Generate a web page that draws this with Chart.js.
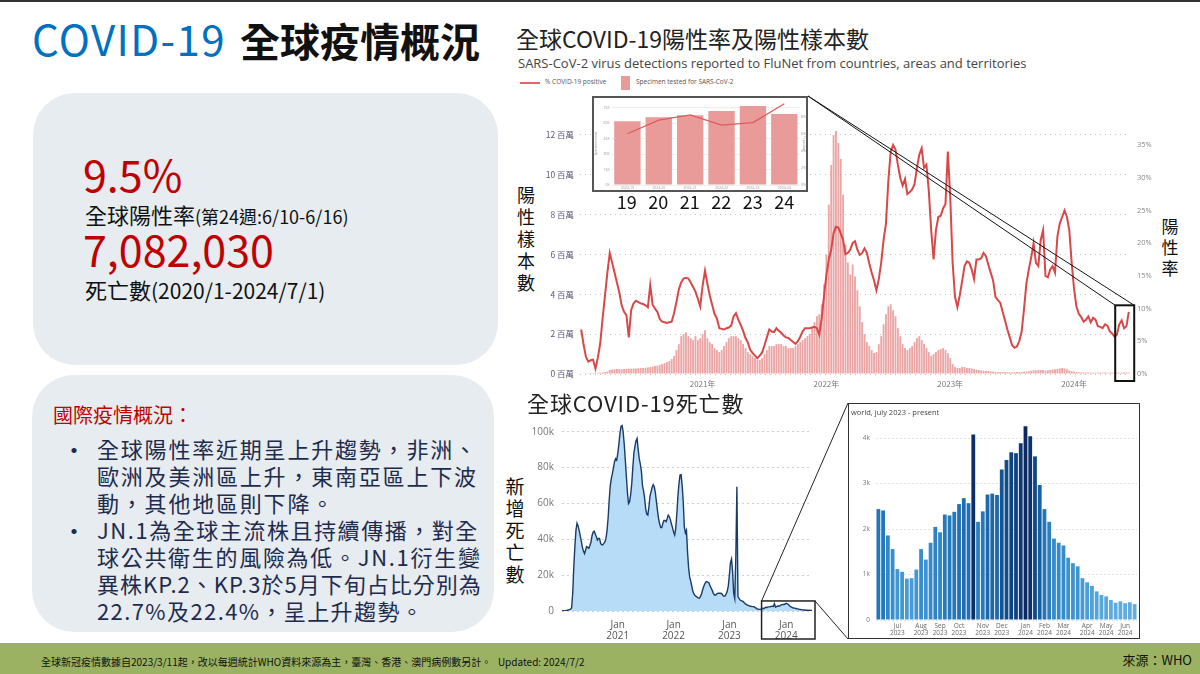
<!DOCTYPE html>
<html><head><meta charset="utf-8">
<script src="https://cdn.jsdelivr.net/npm/chart.js@4.4.1/dist/chart.umd.min.js"></script>
<style>
html,body{margin:0;padding:0;}
body{width:1200px;height:674px;position:relative;overflow:hidden;background:#fff;font-family:"Noto Sans CJK TC","Noto Sans",sans-serif;}
.a{position:absolute;line-height:1;white-space:nowrap;}
.panel{position:absolute;background:#e6ecef;border-radius:42px;}
.vt{position:absolute;text-align:center;color:#111;}
.bl{position:absolute;left:97px;font-size:22px;letter-spacing:1.8px;color:#1f2b4d;white-space:nowrap;line-height:27px;}
.dot{position:absolute;left:62px;font-size:24px;color:#1f2b4d;line-height:27px;}
canvas{position:absolute;}
</style></head>
<body>
<div class="a" style="left:0;top:0;width:1200px;height:2px;background:#333"></div>
<div class="a" style="left:32px;top:17px;font-size:42px;color:#0070c0;letter-spacing:1.4px;">COVID-19</div>
<div class="a" style="left:240px;top:20px;font-size:40px;color:#111;font-weight:bold;">全球疫情概況</div>

<div class="panel" style="left:33px;top:93px;width:465px;height:272px;"></div>
<div class="a" style="left:83px;top:152px;font-size:43px;color:#c00000;">9.5%</div>
<div class="a" style="left:85px;top:203px;font-size:22px;color:#111;">全球陽性率<span style="font-size:18px;">(第24週:6/10-6/16)</span></div>
<div class="a" style="left:83px;top:227px;font-size:43px;color:#c00000;">7,082,030</div>
<div class="a" style="left:85px;top:278px;font-size:22px;color:#111;">死亡數<span style="font-size:21px;">(2020/1-2024/7/1)</span></div>

<div class="panel" style="left:32px;top:375px;width:462px;height:257px;"></div>
<div class="a" style="left:53px;top:405px;font-size:20px;color:#c00000;">國際疫情概況：</div>
<div class="dot" style="top:435px;">•</div>
<div class="bl" style="top:435px;">全球陽性率近期呈上升趨勢，非洲、</div>
<div class="bl" style="top:462px;">歐洲及美洲區上升，東南亞區上下波</div>
<div class="bl" style="top:489px;">動，其他地區則下降。</div>
<div class="dot" style="top:516px;">•</div>
<div class="bl" style="top:516px;letter-spacing:1.55px;">JN.1為全球主流株且持續傳播，對全</div>
<div class="bl" style="top:543px;letter-spacing:1.7px;">球公共衛生的風險為低。JN.1衍生變</div>
<div class="bl" style="top:570px;letter-spacing:1.0px;">異株KP.2、KP.3於5月下旬占比分別為</div>
<div class="bl" style="top:597px;letter-spacing:1.4px;">22.7%及22.4%，呈上升趨勢。</div>

<div class="a" style="left:0;top:643px;width:1200px;height:31px;background:#9bb262;"></div>
<div class="a" style="left:41px;top:657px;font-size:10px;color:#111;">全球新冠疫情數據自2023/3/11起，改以每週統計WHO資料來源為主，臺灣、香港、澳門病例數另計。&nbsp;&nbsp;&nbsp;Updated: 2024/7/2</div>
<div class="a" style="right:8px;top:653px;font-size:13px;color:#111;">來源：WHO</div>

<!-- chart 1 texts -->
<div class="a" style="left:516px;top:27px;font-size:23px;color:#222;">全球COVID-19陽性率及陽性樣本數</div>
<div class="a" style="left:518px;top:57px;font-size:13px;color:#444;font-family:'Open Sans',sans-serif;">SARS-CoV-2 virus detections reported to FluNet from countries, areas and territories</div>
<div class="a" style="left:520px;top:82px;width:20px;height:1.5px;background:#e06868;"></div>
<div class="a" style="left:545px;top:79px;font-size:6.5px;color:#555;font-family:'Open Sans',sans-serif;">% COVID-19 positive</div>
<div class="a" style="left:621px;top:76px;width:9px;height:14px;background:#e89b9b;"></div>
<div class="a" style="left:636px;top:79px;font-size:6.5px;color:#555;font-family:'Open Sans',sans-serif;">Specimen tested for SARS-CoV-2</div>
<div class="vt" style="left:516px;top:183px;width:20px;font-size:18px;line-height:22px;">陽<br>性<br>樣<br>本<br>數</div>
<div class="vt" style="left:1160px;top:215px;width:20px;font-size:17px;line-height:21px;">陽<br>性<br>率</div>

<canvas id="mainChart" width="680" height="300" style="left:515px;top:90px;"></canvas>

<div id="inset1" style="position:absolute;left:592px;top:96px;width:216px;height:96px;border:2px solid #555;box-sizing:border-box;background:#fff;">
  <canvas id="insetChart" width="212" height="92" style="left:0;top:0;"></canvas>
</div>
<div id="insetNums" style="position:absolute;left:611px;top:192px;width:189px;display:flex;font-size:18px;line-height:1;color:#111;"></div>

<!-- chart 2 -->
<div class="a" style="left:527px;top:391px;font-size:22px;color:#222;letter-spacing:0.9px;">全球COVID-19死亡數</div>
<div class="vt" style="left:504px;top:475px;width:22px;font-size:19px;line-height:22px;">新<br>增<br>死<br>亡<br>數</div>
<canvas id="deathChart" width="330" height="250" style="left:520px;top:395px;"></canvas>

<div id="inset2" style="position:absolute;left:848px;top:403px;width:292px;height:236px;border:1.5px solid #333;box-sizing:border-box;background:#fff;">
  <canvas id="recentChart" width="289" height="233" style="left:0;top:0;"></canvas>
  <div class="a" style="left:2px;top:5px;font-size:7.5px;color:#444;font-family:'Open Sans',sans-serif;">world, july 2023 - present</div>
</div>

<script>
// ===== DATA: FluNet weekly (2020-W03 .. 2024-W24) =====
const specimenMillions = [
0.03,0.03,0.04,0.04,0.05,0.05,0.06,0.06,0.07,0.08,0.1,0.12,
0.2,0.22,0.24,0.25,0.25,0.24,0.25,0.26,0.27,0.27,0.28,0.28,0.29,0.3,0.3,0.31,
0.33,0.35,0.37,0.4,0.42,0.45,0.5,0.55,0.6,0.65,0.75,
0.9,1.2,1.5,
1.9,2.0,2.1,1.9,
1.8,1.7,1.9,1.7,1.8,2.0,2.2,
1.8,1.6,1.5,1.3,1.2,1.1,1.2,
1.4,1.6,1.8,1.9,1.9,1.9,1.8,
1.7,1.5,1.3,1.1,1.0,0.9,
0.8,0.7,0.7,0.8,
1.0,1.2,1.4,1.4,
1.4,1.5,1.5,1.5,1.4,1.4,1.3,1.3,1.3,1.4,
1.5,1.6,1.7,1.8,1.9,2.0,
2.3,2.6,2.9,3.0,
3.5,4.5,6.0,8.5,10.5,
12.0,12.2,11.6,10.8,9.0,
6.5,5.6,5.0,5.5,4.9,4.2,
3.4,2.6,2.0,1.6,1.4,
1.2,1.05,1.1,
1.5,1.9,2.5,3.0,3.4,
3.5,3.2,2.9,
2.3,1.9,1.5,1.3,1.2,
1.3,1.4,1.6,1.8,1.9,
1.7,1.5,1.3,1.1,
0.9,1.0,1.1,
1.2,1.25,1.3,1.2,1.05,
0.8,0.5,
0.35,0.3,0.3,0.35,0.35,0.3,0.3,0.28,0.25,0.22,
0.2,0.18,0.17,0.15,0.15,0.13,0.12,
0.11,0.1,0.1,0.1,0.1,0.09,0.09,0.09,0.1,0.1,0.1,0.1,0.11,
0.12,0.14,0.16,0.18,0.18,0.2,0.2,0.2,0.18,0.18,0.2,
0.22,0.24,0.26,0.28,0.3,0.28,0.24,0.18,
0.14,0.12,0.1,0.09,0.08,0.08,0.08,0.08,0.07,0.07,0.07,0.07,0.07,0.07,0.07,0.07,0.07,0.065,0.06,
0.062,0.066,0.068,0.072,0.077,0.069];

const positivePct = [
6.8,4.5,2.6,1.9,2.1,2.2,0.8,2.5,4.7,8.5,
12.0,15.5,18.5,17.0,15.5,14.0,12.5,10.5,9.5,9.0,
5.6,9.8,10.8,11.2,11.0,10.8,10.7,10.5,10.2,13.6,
10.6,10.0,9.5,8.4,8.0,7.9,7.8,7.9,8.0,9.3,
11.0,12.9,14.0,14.6,14.7,14.6,14.0,13.3,12.6,11.5,
10.3,13.5,15.8,13.8,12.0,10.6,9.2,8.5,7.0,6.9,
6.8,7.0,7.1,7.4,8.8,9.3,8.3,7.5,6.6,5.5,
4.8,3.7,3.2,2.8,2.4,2.8,3.3,4.4,5.6,6.8,
6.5,6.4,7.0,6.6,6.3,5.9,5.6,5.5,5.2,4.9,
4.6,5.0,5.7,6.5,7.0,7.0,7.0,7.1,7.2,7.0,
6.0,8.5,12.0,15.2,17.5,19.0,21.5,22.5,22.4,21.5,
20.5,18.3,18.5,19.0,20.0,20.3,19.0,18.2,18.5,19.2,
18.5,16.9,15.5,14.3,12.8,14.5,17.0,20.5,23.0,29.5,
34.0,35.0,34.3,32.0,30.0,28.8,29.8,27.5,27.8,28.2,
29.0,31.5,33.5,34.5,31.5,32.0,28.0,22.0,17.5,22.0,
24.0,24.2,25.3,26.0,34.0,27.0,17.0,11.8,10.2,12.0,
14.2,16.5,17.2,17.0,16.0,14.5,17.5,17.5,17.7,18.5,
18.0,16.7,15.5,14.3,11.8,11.3,10.9,9.5,8.2,6.8,
5.6,4.4,4.0,4.2,5.0,6.5,10.0,13.9,16.0,17.8,
20.0,17.0,16.5,20.5,22.0,15.0,14.8,16.0,16.5,15.5,
21.0,23.0,24.0,25.0,24.0,22.0,17.0,13.0,10.3,9.2,
8.7,8.0,8.3,8.8,7.9,8.6,8.3,7.3,7.2,7.0,
7.6,7.4,6.5,6.2,5.7,6.0,7.6,8.2,7.0,7.3,9.5];

const yearTickText = {"2021-W01":"2021年","2022-W01":"2022年","2023-W01":"2023年","2024-W01":"2024年"};
const specimenTicks = [0,2,4,6,8,10,12];
const pctTicks = [0,5,10,15,20,25,30,35];

// inset: 2024 weeks 19-24
const insetWeeks = ["19","20","21","22","23","24"];
const insetSpecimenK = [62,66,68,72,77,69];
const insetPct = [6.0,7.6,8.2,7.0,7.3,9.5];
const insetLeftTicks = [0,15,30,45,60,75];
const insetRightTicks = [0,2,4,6,8];

// ===== DATA: WHO weekly deaths (thousands), from 2020-01-05 =====
const deathsK = [
0.1,0.1,0.1,0.2,0.3,0.4,0.6,0.8,1.0,1.8,
10,24.7,36,45,49,47.5,45,42,39,35.5,
33.5,32,34,35.9,35.5,35,36.5,38.5,42,44,
44.5,43,41.5,39.6,40.5,40.5,37.7,37,37,37.7,
38.5,40.5,45,52,62,70,74,76.8,80,83.5,
85,84.2,88,93,99,103,103.5,100,93,84.2,
75,66,60,61,65,71,80,88,92,95,
96.3,90,85,82,78,70,67,63,57,54,
53.5,58,64,66.5,69,70.5,69.3,66,61,56,
51.5,48.5,46.5,46.5,48.9,50.5,50.5,49.8,51.5,53.5,
52.6,51,48.5,46.5,44,42.4,46,54,63.8,71,
75.8,76,70,61,47,43.5,45,33,24,19,
16.5,13.8,10.8,9.5,8.6,8.2,7.7,7.3,7.1,8,
9.5,11.7,13.5,15,16.2,16.4,16,15.6,14,12.8,
11.5,10,9,8.8,9.4,9.8,9.9,9.9,9.9,9.6,
8.6,8.2,8.4,9.5,11,14,20,27,29,22,
10,7,30,69.3,8,7,6.1,5.8,5.5,5.2,
4.5,4.0,3.6,3.3,3.0,2.8,2.6,2.5,
2.44,2.41,1.86,1.56,1.12,1.06,0.91,0.92,1.11,1.56,
1.33,1.70,2.05,1.93,2.32,2.30,2.38,2.55,2.68,2.57,
4.08,2.16,2.39,2.76,2.78,2.75,3.31,3.52,3.69,3.67,
3.89,4.26,4.04,3.60,2.97,2.44,2.16,1.79,1.70,1.64,
1.37,1.25,1.18,0.92,0.83,0.75,0.63,0.55,0.52,0.44,
0.38,0.41,0.37,0.39,0.35,0.35];
const deathTicksK = [0,20,40,60,80,100];

// recent weekly deaths (thousands), from 2023-06-04
const recentDeathsK = [
2.44,2.41,1.86,1.56,1.12,1.06,0.91,0.92,1.11,1.56,
1.33,1.70,2.05,1.93,2.32,2.30,2.38,2.55,2.68,2.57,
4.08,2.16,2.39,2.76,2.78,2.75,3.31,3.52,3.69,3.67,
3.89,4.26,4.04,3.60,2.97,2.44,2.16,1.79,1.70,1.64,
1.37,1.25,1.18,0.92,0.83,0.75,0.63,0.55,0.52,0.44,
0.38,0.41,0.37,0.39,0.35];
const recentTicksK = [0,1,2,3,4];
const monthNames = ["Jan","Feb","Mar","Apr","May","Jun","Jul","Aug","Sep","Oct","Nov","Dec"];

// ===== category labels =====
const weekLabels = [];
[[2020,3,53],[2021,1,52],[2022,1,52],[2023,1,52],[2024,1,24]].forEach(([y,a,b])=>{
  for(let w=a;w<=b;w++) weekLabels.push(y+'-W'+String(w).padStart(2,'0'));
});
function weeklyDates(start,n){
  const base=Date.parse(start+'T00:00:00Z'), out=[];
  for(let i=0;i<n;i++) out.push(new Date(base+i*7*86400000).toISOString().slice(0,10));
  return out;
}
const deathDates = weeklyDates('2020-01-05', deathsK.length);
const recentDates = weeklyDates('2023-06-04', recentDeathsK.length);

// ===== shared =====
const CJK = "'Noto Sans CJK TC','Noto Sans',sans-serif";
const LAT = "'Open Sans','Noto Sans',sans-serif";
Chart.defaults.font.family = CJK;
Chart.defaults.devicePixelRatio = 1;
const base = {responsive:false, animation:false, events:[], plugins:{legend:{display:false}, tooltip:{enabled:false}}};

document.getElementById('insetNums').innerHTML = insetWeeks.map(w=>'<div style="flex:1;text-align:center">'+w+'</div>').join('');

function corner(rect, which){
  return {x: which[1]==='l'?rect.left:rect.right, y: which[0]==='t'?rect.top:rect.bottom};
}
const zoomBox = {
  id:'zoomBox',
  afterDraw(chart, args, o){
    if(!o || !o.on) return;
    const {ctx, chartArea} = chart;
    const xs = chart.scales.x, ys = chart.scales[o.axis];
    const l = xs.getPixelForValue(o.from) - o.padL;
    const r = xs.getPixelForValue(o.to) + o.padR;
    const t = ys.getPixelForValue(o.topValue);
    const b = chartArea.bottom + o.padBottom;
    ctx.save();
    ctx.strokeStyle = o.color; ctx.lineWidth = o.width;
    ctx.strokeRect(l, t, r-l, b-t);
    const cr = chart.canvas.getBoundingClientRect();
    const tr = document.getElementById(o.target).getBoundingClientRect();
    const box = {tl:{x:l,y:t}, tr:{x:r,y:t}, bl:{x:l,y:b}, br:{x:r,y:b}};
    ctx.lineWidth = o.lineWidth;
    o.links.forEach(([from,to])=>{
      const p = corner(tr,to);
      ctx.beginPath();
      ctx.moveTo(box[from].x, box[from].y);
      ctx.lineTo(p.x-cr.left, p.y-cr.top);
      ctx.stroke();
    });
    ctx.restore();
  }
};

// ===== main FluNet chart =====
new Chart(document.getElementById('mainChart'), {
  type:'bar',
  data:{labels:weekLabels, datasets:[
    {type:'line', label:'% COVID-19 positive', data:positivePct, yAxisID:'yR', borderColor:'#d94848', borderWidth:2, pointRadius:0, tension:0, order:0},
    {type:'bar', label:'Specimen tested for SARS-CoV-2', data:specimenMillions, yAxisID:'yL', backgroundColor:'rgba(229,140,140,0.78)', categoryPercentage:1, barPercentage:0.78, order:1}
  ]},
  options:{...base,
    layout:{padding:{top:40,left:0,right:0,bottom:0}},
    plugins:{...base.plugins, zoomBox:{on:true, axis:'yR', from:225, to:230, padL:1.7, padR:5.4, topValue:10.5, padBottom:7, color:'#111', width:2, lineWidth:1, target:'inset1', links:[['tr','tr'],['tl','tr']]}},
    scales:{
      x:{grid:{display:false, drawTicks:false}, border:{display:false},
        ticks:{autoSkip:false, maxRotation:0, minRotation:0, padding:5, color:'#777', font:{size:8},
          callback(v){ const l=this.getLabelForValue(v); return yearTickText[l] ?? null; }},
        afterFit(s){ s.height=16; }},
      yL:{position:'left', min:0, max:12.25,
        afterBuildTicks(s){ s.ticks = specimenTicks.map(v=>({value:v})); },
        grid:{color:'#c4c4c4', drawTicks:false}, border:{display:false, dash:[1,4]},
        ticks:{padding:6, color:'#5a5a78', font:{size:8.5}, callback:v=>v+' 百萬'},
        afterFit(s){ s.width=65; }},
      yR:{position:'right', min:0, max:37.3,
        afterBuildTicks(s){ s.ticks = pctTicks.map(v=>({value:v})); },
        grid:{display:false, drawTicks:false}, border:{display:false},
        ticks:{padding:7, color:'#888', font:{size:7.5, family:LAT}, callback:v=>v+'%'},
        afterFit(s){ s.width=65; }}
    }
  },
  plugins:[zoomBox]
});

// ===== inset: weeks 19-24 =====
new Chart(document.getElementById('insetChart'), {
  type:'bar',
  data:{labels:insetWeeks, datasets:[
    {type:'line', data:insetPct, yAxisID:'yR', borderColor:'#de5b5b', borderWidth:1.3, pointRadius:0, tension:0, order:0},
    {type:'bar', data:insetSpecimenK, yAxisID:'yL', backgroundColor:'#e99b9a', categoryPercentage:1, barPercentage:0.84, order:1}
  ]},
  options:{...base,
    layout:{padding:{top:2,left:0,right:0,bottom:0}},
    scales:{
      x:{grid:{display:false, drawTicks:false}, border:{display:false},
        ticks:{padding:1, color:'#999', font:{size:3.5, family:LAT}, maxRotation:0, callback(v){ return '2024-'+this.getLabelForValue(v); }},
        afterFit(s){ s.height=5; }},
      yL:{position:'left', min:0, max:80.7,
        afterBuildTicks(s){ s.ticks = insetLeftTicks.map(v=>({value:v})); },
        grid:{color:'#eee', drawTicks:false}, border:{display:false},
        title:{display:true, text:'Specimen tested', font:{size:3}, color:'#888', padding:0},
        ticks:{padding:2, color:'#999', font:{size:3.5, family:LAT}, callback:v=>v+'K'},
        afterFit(s){ s.width=17.7; }},
      yR:{position:'right', min:0, max:9.7,
        afterBuildTicks(s){ s.ticks = insetRightTicks.map(v=>({value:v})); },
        grid:{display:false, drawTicks:false}, border:{display:false},
        title:{display:true, text:'% positive', font:{size:3}, color:'#888', padding:0},
        ticks:{padding:1, color:'#999', font:{size:3.5, family:LAT}, callback:v=>v+'%'},
        afterFit(s){ s.width=6; }}
    }
  }
});

// ===== deaths chart =====
new Chart(document.getElementById('deathChart'), {
  type:'line',
  data:{labels:deathDates, datasets:[
    {data:deathsK, fill:'origin', backgroundColor:'#b6dcf7', borderColor:'#1c3a66', borderWidth:1.4, pointRadius:0, tension:0}
  ]},
  options:{...base,
    layout:{padding:{top:26,left:0,right:38,bottom:0}},
    plugins:{...base.plugins, zoomBox:{on:true, axis:'y', from:186, to:deathsK.length-1, padL:0, padR:3, topValue:5.6, padBottom:28, color:'#222', width:1.5, lineWidth:1, target:'inset2', links:[['tl','tl'],['tr','bl']]}},
    scales:{
      x:{grid:{display:false, drawTicks:false}, border:{display:false},
        ticks:{autoSkip:false, maxRotation:0, minRotation:0, padding:8, color:'#555', font:{size:10, family:LAT, lineHeight:1.15},
          callback(v,i){ const l=this.getLabelForValue(v); const p=i>0?this.getLabelForValue(i-1):null;
            if(l.slice(5,7)==='01' && p && p.slice(5,7)==='12' && l>'2020-12') return ['Jan', l.slice(0,4)]; return null; }},
        afterFit(s){ s.height=34; }},
      y:{min:0, max:106,
        afterBuildTicks(s){ s.ticks = deathTicksK.map(v=>({value:v})); },
        grid:{color:'#cfcfcf', drawTicks:false}, border:{display:false, dash:[2,3]},
        ticks:{padding:8, color:'#777', font:{size:10, family:LAT}, callback:v=>v===0?'0':v+'k'},
        afterFit(s){ s.width=42; }}
    }
  },
  plugins:[zoomBox]
});

// ===== recent deaths inset =====
function blueFor(v){
  const stops=[[0,[112,184,229]],[1,[68,153,211]],[2,[46,133,198]],[2.5,[34,116,182]],[3,[22,95,160]],[3.5,[16,78,140]],[4,[13,50,108]],[4.4,[10,36,88]]];
  for(let i=1;i<stops.length;i++){
    if(v<=stops[i][0]){ const [a,ca]=stops[i-1],[b,cb]=stops[i]; const f=(v-a)/(b-a);
      return 'rgb('+ca.map((c,k)=>Math.round(c+(cb[k]-c)*f)).join(',')+')'; }
  }
  return 'rgb(10,36,88)';
}
new Chart(document.getElementById('recentChart'), {
  type:'bar',
  data:{labels:recentDates, datasets:[
    {data:recentDeathsK, backgroundColor:recentDeathsK.map(blueFor), categoryPercentage:1, barPercentage:0.8}
  ]},
  options:{...base,
    layout:{padding:{top:16,left:0,right:1,bottom:0}},
    scales:{
      x:{grid:{display:false, drawTicks:false}, border:{display:false},
        ticks:{autoSkip:false, maxRotation:0, minRotation:0, padding:3, color:'#666', font:{size:6.5, family:LAT, lineHeight:1.05},
          callback(v,i){ const l=this.getLabelForValue(v); const p=i>0?this.getLabelForValue(i-1):null;
            if(p && l.slice(5,7)!==p.slice(5,7)) return [monthNames[+l.slice(5,7)-1], l.slice(0,4)]; return null; }},
        afterFit(s){ s.height=17; }},
      y:{min:0, max:4.4,
        afterBuildTicks(s){ s.ticks = recentTicksK.map(v=>({value:v})); },
        grid:{color:'#e2e2e2', drawTicks:false}, border:{display:false, dash:[2,2]},
        ticks:{padding:6, color:'#777', font:{size:6.5, family:LAT}, callback:v=>v===0?'0':v+'k'},
        afterFit(s){ s.width=27; }}
    }
  }
});
</script>
</body></html>
